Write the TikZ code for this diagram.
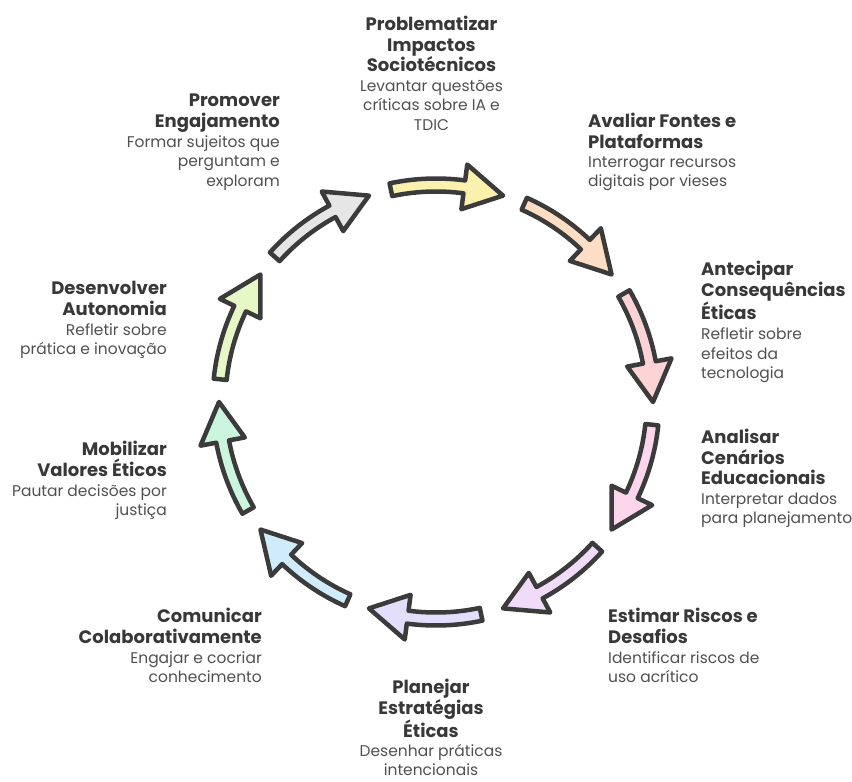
\documentclass[tikz,border=0pt]{standalone}
\usepackage{fontspec}
\setmainfont{Poppins}
\usetikzlibrary{positioning}
\definecolor{ink}{HTML}{3B3B3B}
\definecolor{txt}{HTML}{383838}
\definecolor{cA}{HTML}{FBF1AE}
\definecolor{cB}{HTML}{FDDEC4}
\definecolor{cC}{HTML}{FDD3D5}
\definecolor{cD}{HTML}{FBD6EC}
\definecolor{cE}{HTML}{F0DCF8}
\definecolor{cF}{HTML}{E2DEFB}
\definecolor{cG}{HTML}{D0ECFB}
\definecolor{cH}{HTML}{CCF5DE}
\definecolor{cI}{HTML}{E5F8C6}
\definecolor{cJ}{HTML}{E6E6E6}
\begin{document}
\begin{tikzpicture}[x=1pt, y=-1pt, line join=round, line cap=round,
    tit/.style={font=\fontsize{18}{20.5}\selectfont\bfseries, text=txt, inner sep=0pt,
      execute at begin node=\strut, execute at end node=\strut},
    dsc/.style={font=\fontsize{15.5}{19.5}\selectfont, text=txt!88, inner sep=0pt,
      execute at begin node=\strut, execute at end node=\strut},
    arr/.style={draw=ink, line width=4.5pt}]
  \useasboundingbox (0,0) rectangle (852,782);
  \def\R{217}\def\w{6.5}\def\h{22.5}
  % ring of arrows
  \begin{scope}[shift={(436,402)}, yscale=-1]
    \foreach \s/\c in {102/cA, 66/cB, 30/cC, -6/cD, -42/cE, -78/cF, -114/cG, -150/cH, -186/cI, -222/cJ}{
      \pgfmathsetmacro\b{\s-19.5}\pgfmathsetmacro\e{\s-30}
      \filldraw[arr, fill=\c] (\s:\R+\w) arc[start angle=\s, end angle=\b, radius=\R+\w]
        -- (\b:\R+\h) -- (\e:\R) -- (\b:\R-\h) -- (\b:\R-\w)
        arc[start angle=\b, end angle=\s, radius=\R-\w] -- cycle;
    }
  \end{scope}
  % labels
  \node[tit, anchor=north, align=center] (t1) at (431.5,16) {Problematizar\\Impactos\\Sociotécnicos};
  \node[dsc, below=1.75pt of t1, align=center] (d1) {Levantar questões\\críticas sobre IA e\\TDIC};
  \node[tit, anchor=north west, align=left] (t2) at (588,113) {Avaliar Fontes e\\Plataformas};
  \node[dsc, below=1.75pt of t2.south west, anchor=north west, align=left] (d2) {Interrogar recursos\\digitais por vieses};
  \node[tit, anchor=north west, align=left] (t3) at (701,261) {Antecipar\\Consequências\\Éticas};
  \node[dsc, below=1.75pt of t3.south west, anchor=north west, align=left] (d3) {Refletir sobre\\efeitos da\\tecnologia};
  \node[tit, anchor=north west, align=left] (t4) at (701,429) {Analisar\\Cenários\\Educacionais};
  \node[dsc, below=1.75pt of t4.south west, anchor=north west, align=left] (d4) {Interpretar dados\\para planejamento};
  \node[tit, anchor=north west, align=left] (t5) at (608,608) {Estimar Riscos e\\Desafios};
  \node[dsc, below=1.75pt of t5.south west, anchor=north west, align=left] (d5) {Identificar riscos de\\uso acrítico};
  \node[tit, anchor=north, align=center] (t6) at (431,679) {Planejar\\Estratégias\\Éticas};
  \node[dsc, below=0.5pt of t6, align=center, font=\fontsize{15.5}{18.5}\selectfont] (d6) {Desenhar práticas\\intencionais};
  \node[tit, anchor=north east, align=right] (t7) at (262,608) {Comunicar\\Colaborativamente};
  \node[dsc, below=1.75pt of t7.south east, anchor=north east, align=right] (d7) {Engajar e cocriar\\conhecimento};
  \node[tit, anchor=north east, align=right] (t8) at (167,441) {Mobilizar\\Valores Éticos};
  \node[dsc, below=1.75pt of t8.south east, anchor=north east, align=right] (d8) {Pautar decisões por\\justiça};
  \node[tit, anchor=north east, align=right] (t9) at (167,281) {Desenvolver\\Autonomia};
  \node[dsc, below=1.75pt of t9.south east, anchor=north east, align=right] (d9) {Refletir sobre\\prática e inovação};
  \node[tit, anchor=north east, align=right] (t10) at (280,94) {Promover\\Engajamento};
  \node[dsc, below=1.75pt of t10.south east, anchor=north east, align=right] (d10) {Formar sujeitos que\\perguntam e\\exploram};
\end{tikzpicture}
\end{document}
